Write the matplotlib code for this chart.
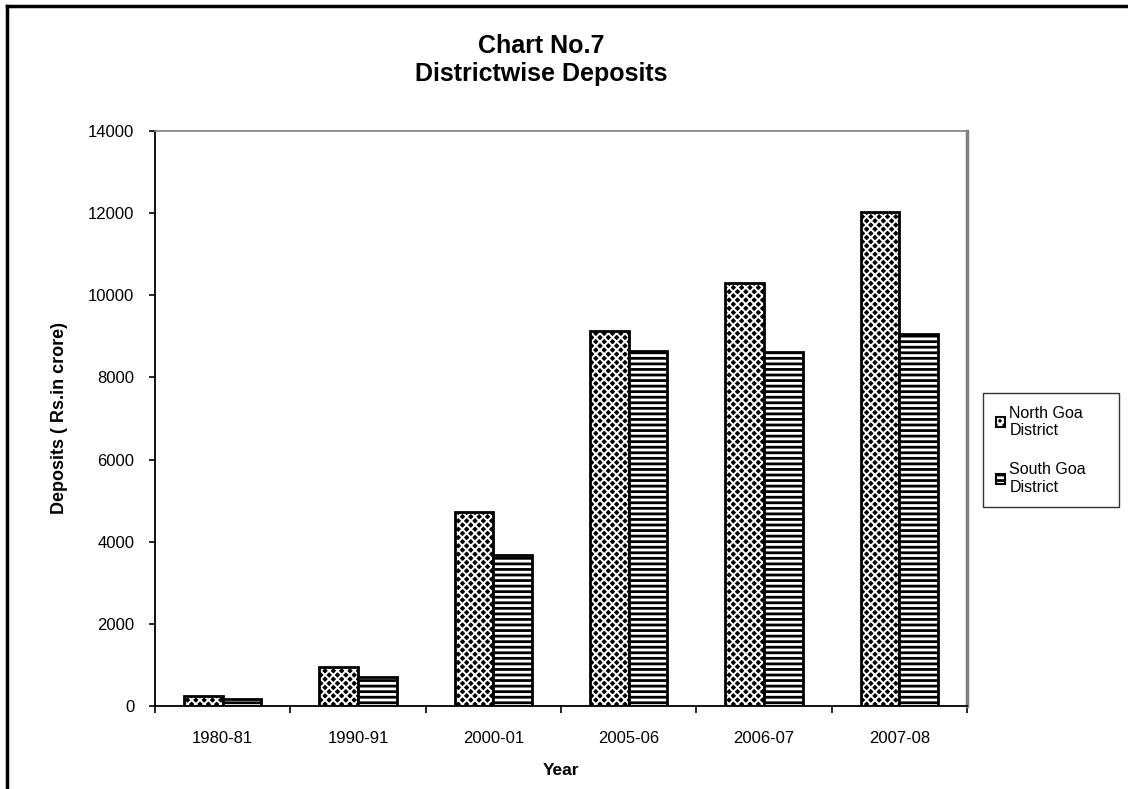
import numpy as np
import matplotlib
matplotlib.use("Agg")
import matplotlib.pyplot as plt
from matplotlib.lines import Line2D
from matplotlib.patches import Patch
from matplotlib.legend_handler import HandlerTuple

years = ["1980-81", "1990-91", "2000-01", "2005-06", "2006-07", "2007-08"]
north_goa = [240, 950, 4720, 9130, 10300, 12030]
south_goa = [170, 700, 3680, 8640, 8620, 9060]

plt.rcParams["font.family"] = ["Liberation Sans", "DejaVu Sans"]
plt.rcParams["hatch.linewidth"] = 2.0

fig = plt.figure(figsize=(11.28, 7.89), dpi=100)
ax = fig.add_axes([0.1374, 0.1052, 0.7199, 0.7288])

x = np.arange(len(years))
w = 0.285

# North Goa: black diamonds = black fill cut by white diagonal hatch
with plt.rc_context({"hatch.linewidth": 1.4}):
    ax.bar(x - w / 2, north_goa, w, facecolor="black", edgecolor="white",
           linewidth=0, hatch="xxxx")
ax.bar(x - w / 2, north_goa, w, facecolor="none", edgecolor="black",
       linewidth=2)
ax.bar(x + w / 2, south_goa, w, facecolor="white", edgecolor="black",
       linewidth=2, hatch="---")

ax.set_xlim(-0.5, len(years) - 0.5)
ax.set_ylim(0, 14000)
ax.set_yticks(np.arange(0, 14001, 2000))
ax.set_xticks(x)
ax.set_xticklabels(years)
ax.set_xticks(np.arange(-0.5, len(years)), minor=True)
ax.tick_params(axis="x", which="major", length=0, pad=18, labelsize=12)
ax.tick_params(axis="x", which="minor", length=5, width=1.2, direction="out")
ax.tick_params(axis="y", length=4, width=1.2, pad=11, labelsize=12)

for side in ["left", "bottom"]:
    ax.spines[side].set_color("black")
    ax.spines[side].set_linewidth(1.3)
ax.spines["top"].set_color("#808080")
ax.spines["top"].set_linewidth(1.2)
ax.spines["right"].set_color("#808080")
ax.spines["right"].set_linewidth(2.5)

ax.set_xlabel("Year", fontsize=12.5, fontweight="bold", labelpad=12)
ax.set_ylabel("Deposits ( Rs.in crore)", fontsize=13, fontweight="bold",
              labelpad=14)

fig.text(0.48, 0.957, "Chart No.7\nDistrictwise Deposits", ha="center",
         va="top", fontsize=18, fontweight="bold", linespacing=1.2)

with plt.rc_context({"hatch.linewidth": 1.0}):
    north_fill = Patch(facecolor="black", edgecolor="white", linewidth=0,
                       hatch="xxxx")
north_edge = Patch(facecolor="none", edgecolor="black", linewidth=1.5)
south_patch = Patch(facecolor="white", edgecolor="black", hatch="---",
                    linewidth=1.5)
leg = fig.legend([(north_fill, north_edge), south_patch],
                 ["North Goa\nDistrict", "South Goa\nDistrict"],
                 handler_map={tuple: HandlerTuple(ndivide=1)},
                 loc="upper left",
                 bbox_to_anchor=(983 / 1128, 1 - 504 / 789, 136 / 1128, 111 / 789),
                 mode="expand", fontsize=11.5, frameon=True, fancybox=False,
                 handlelength=0.6, handleheight=0.6, handletextpad=0.25,
                 labelspacing=1.5, borderpad=0.8, borderaxespad=0)
leg.get_frame().set_edgecolor("black")
leg.get_frame().set_linewidth(1.0)

# outer frame (left and top edges of the scanned border)
fig.add_artist(Line2D([0.0066, 0.0066], [0.0, 0.9930], color="black",
                      linewidth=2.5, transform=fig.transFigure))
fig.add_artist(Line2D([0.0066, 1.0], [0.9930, 0.9930], color="black",
                      linewidth=2.5, transform=fig.transFigure))

fig.savefig("out.png", dpi=100)
